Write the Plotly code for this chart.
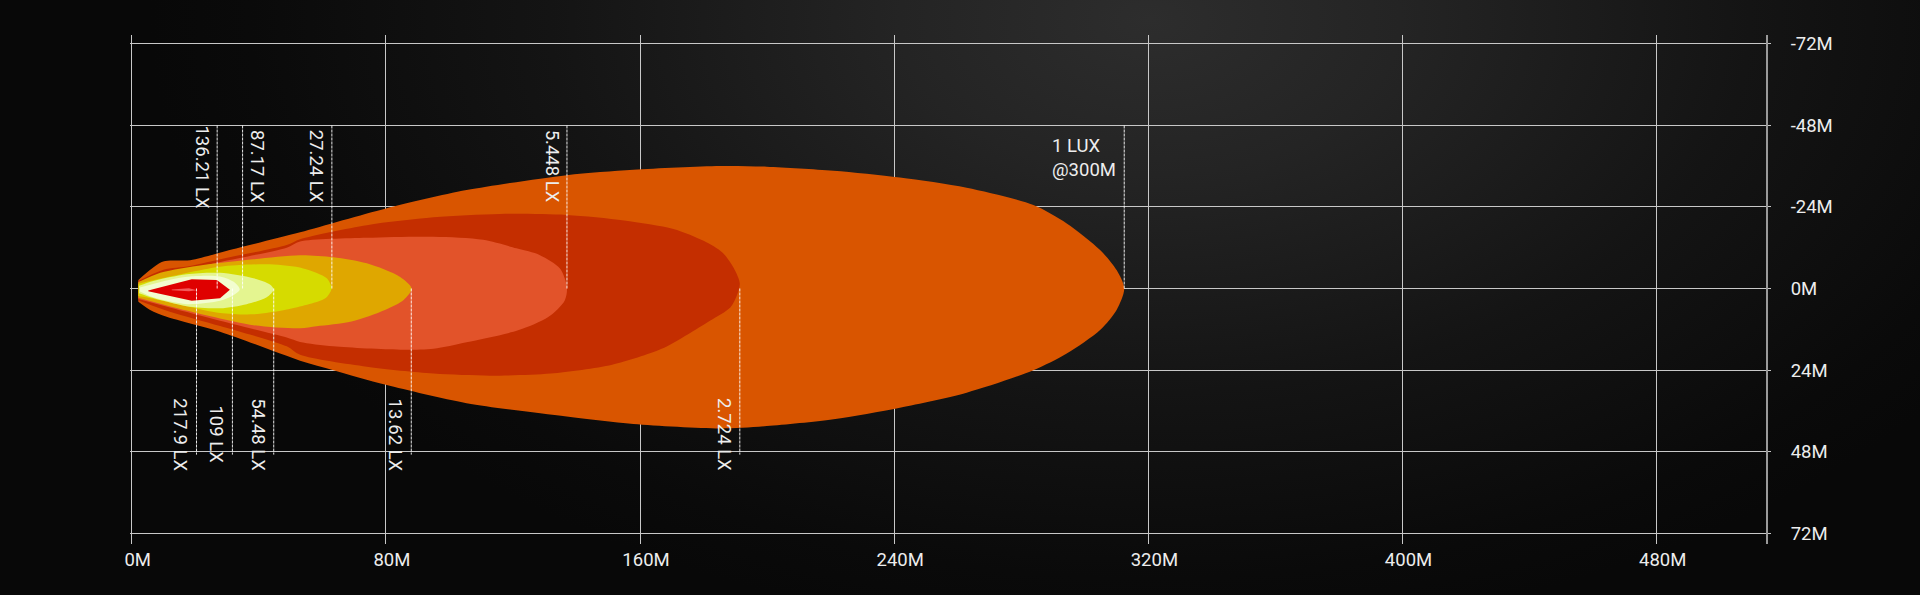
import base64
import plotly.graph_objects as go

# ---------------- axis ticks ----------------
x_ticks = [0, 80, 160, 240, 320, 400, 480]
x_tick_text = ["0M", "80M", "160M", "240M", "320M", "400M", "480M"]
y_ticks = [-72, -48, -24, 0, 24, 48, 72]
y_tick_text = ["-72M", "-48M", "-24M", "0M", "24M", "48M", "72M"]

# ---------------- isolux contours (distance M, lateral M) ----------------
lux_1_x = [2.1, 9.9, 18.4, 30, 53, 80, 105.4, 136.9, 157.9, 185.2, 199.9, 220.9, 241.8, 262.8, 283.8, 294.3, 304.8, 310.0, 312.4,
           310.0, 304.8, 294.3, 283.8, 262.8, 241.8, 220.9, 199.9, 185.2, 157.9, 136.9, 105.4, 80, 63.5, 53, 27.8, 11.0, 5.8, 2.1]
lux_1_y = [-2.5, -7.9, -8.3, -11.1, -16.5, -23.5, -28.9, -33.3, -34.9, -36.0, -35.8, -34.6, -32.6, -29.6, -24.5, -19.1, -11.3, -5.4, 0.0,
           6.3, 12.2, 19.1, 24.0, 30.6, 35.0, 38.4, 40.4, 41.1, 39.8, 37.6, 33.7, 28.3, 24.0, 21.2, 12.7, 8.3, 6.3, 3.9]

lux_2724_x = [2.1, 10, 18.4, 30, 48.8, 53, 74, 95, 115.9, 136.9, 155, 170.5, 180, 186, 189.5, 191.4,
              190.5, 188.5, 182, 175, 166.6, 151.2, 131.9, 112.8, 95, 74, 53, 48.8, 27.8, 12, 2.1]
lux_2724_y = [-2.2, -5.5, -6.6, -9.0, -12.8, -14.5, -18.6, -20.9, -21.9, -21.6, -20.0, -17.5, -14.0, -10.5, -6.0, -1.5,
              2.0, 5.5, 9.5, 13.5, 17.8, 22.4, 25.0, 25.6, 25.0, 23.0, 19.5, 17.0, 11.0, 6.8, 3.5]

lux_5448_x = [2.1, 15, 30, 48.8, 53, 74, 95, 110.6, 121.1, 128.5, 134.8, 137.0,
              136.3, 131.1, 121.6, 105.4, 95, 84.5, 63.5, 53, 48.8, 27.8, 12, 2.1]
lux_5448_y = [-2.0, -5.0, -8.2, -12.0, -13.8, -14.9, -15.2, -14.3, -11.8, -9.8, -5.9, -0.4,
              3.5, 8.4, 12.3, 15.8, 17.7, 18.0, 17.0, 15.7, 14.4, 9.5, 5.6, 3.1]

lux_1362_x = [2.1, 9, 22.5, 38.3, 53, 63.5, 74, 84.5, 88.1, 85.6, 79.7, 69.2, 58.2, 53, 38.3, 17.3, 2.1]
lux_1362_y = [-1.8, -4.6, -6.9, -8.6, -9.8, -9.2, -7.4, -3.4, 0.0, 3.35, 6.3, 9.7, 11.1, 11.7, 10.8, 6.5, 2.7]

lux_2724b_x = [2.1, 12.05, 27.8, 43.5, 54.0, 61.4, 62.9, 61.5, 59.3, 48.8, 38.3, 27.8, 17.3, 6.8, 2.1]
lux_2724b_y = [-1.4, -3.5, -6.4, -7.1, -5.9, -3.0, 0.0, 2.4, 3.6, 6.2, 7.6, 7.2, 5.2, 3.0, 2.2]

lux_5448b_x = [2.3, 6.8, 17.3, 27.8, 38.3, 43.5, 44.7, 42.5, 36.2, 27.8, 17.3, 6.8, 2.3]
lux_5448b_y = [-0.8, -2.2, -4.2, -4.6, -3.0, -1.2, 0.3, 2.6, 4.6, 5.8, 5.2, 2.8, 1.4]

lux_8717_x = [2.6, 12.05, 18.35, 27.8, 32.5, 34.0, 32.0, 27.8, 17.3, 6.8, 2.6]
lux_8717_y = [-0.3, -2.6, -3.5, -3.5, -1.7, 0.3, 2.0, 3.6, 4.6, 2.6, 0.9]

lux_13621_x = [5.2, 18.9, 26.8, 30.9, 27.8, 18.9, 5.2]
lux_13621_y = [0.6, -2.7, -2.5, 0.4, 2.9, 3.6, 0.8]

lux_2179_x = [12.6, 18.0, 20.6, 18.0, 12.6]
lux_2179_y = [0.3, -0.1, 0.5, 0.8, 0.5]

contours = [
    (lux_1_x, lux_1_y, "#D95500", "spline"),
    (lux_2724_x, lux_2724_y, "#C42E00", "spline"),
    (lux_5448_x, lux_5448_y, "#E2532A", "spline"),
    (lux_1362_x, lux_1362_y, "#DFA700", "spline"),
    (lux_2724b_x, lux_2724b_y, "#D6DB00", "spline"),
    (lux_5448b_x, lux_5448b_y, "#E4F590", "spline"),
    (lux_8717_x, lux_8717_y, "#F2FDD0", "spline"),
    (lux_13621_x, lux_13621_y, "#DF0000", "linear"),
    (lux_2179_x, lux_2179_y, "#F25A5A", "linear"),
]

# ---------------- marker labels ----------------
top_labels = ["136.21 LX", "87.17 LX", "27.24 LX", "5.448 LX"]
top_dist = [26.9, 34.9, 63.0, 137.0]
top_side = [-1, 1, -1, -1]
bottom_labels = ["217.9 LX", "109 LX", "54.48 LX", "13.62 LX", "2.724 LX"]
bottom_dist = [20.4, 31.7, 44.7, 88.0, 191.4]
max_label = "1 LUX<br>@300M"
max_dist = 312.4

TEXT = "#EDEDED"
FONT = "Roboto, Liberation Sans, sans-serif"
FS = 18.5

fig = go.Figure()
for cx, cy, col, shp in contours:
    fig.add_trace(go.Scatter(x=cx, y=cy, mode="lines", fill="toself", fillcolor=col,
                             line=dict(width=0, shape=shp, smoothing=0.8, color=col),
                             hoverinfo="skip", showlegend=False))

dot_line = dict(color="rgba(255,255,255,0.9)", width=1, dash="3px,1px")
for d in top_dist + [max_dist]:
    fig.add_trace(go.Scatter(x=[d, d], y=[0, -48], mode="lines", line=dot_line,
                             hoverinfo="skip", showlegend=False))
for d in bottom_dist:
    fig.add_trace(go.Scatter(x=[d, d], y=[0, 48.8], mode="lines", line=dot_line,
                             hoverinfo="skip", showlegend=False))

for lab, d, s in zip(top_labels, top_dist, top_side):
    fig.add_annotation(x=d, y=-35.8, text=lab, showarrow=False, textangle=90,
                       xanchor="center", yanchor="middle", xshift=15 * s,
                       font=dict(family=FONT, size=FS, color=TEXT))
for lab, d in zip(bottom_labels, bottom_dist):
    fig.add_annotation(x=d, y=43.0, text=lab, showarrow=False, textangle=90,
                       xanchor="center", yanchor="middle", xshift=-16,
                       font=dict(family=FONT, size=FS, color=TEXT))
fig.add_annotation(x=max_dist, y=-38.3, text=max_label, showarrow=False, align="left",
                   xanchor="right", yanchor="middle", xshift=-6,
                   font=dict(family=FONT, size=FS, color=TEXT))

# background radial gradient
svg = ('<svg xmlns="http://www.w3.org/2000/svg" width="1920" height="595">'
       '<defs><radialGradient id="g" gradientUnits="userSpaceOnUse" cx="1150" cy="20" r="1000" '
       'gradientTransform="translate(1150 20) scale(1 0.62) translate(-1150 -20)">'
       '<stop offset="0" stop-color="#2d2d2d"/><stop offset="0.25" stop-color="#242424"/>'
       '<stop offset="0.6" stop-color="#141414"/><stop offset="0.9" stop-color="#0a0a0a"/>'
       '<stop offset="1" stop-color="#080808"/></radialGradient></defs>'
       '<rect width="1920" height="595" fill="url(#g)"/></svg>')
src = "data:image/svg+xml;base64," + base64.b64encode(svg.encode()).decode()

L, R, T, B = 130, 154, 35, 51
W, H = 1920, 595
pw, ph = W - L - R, H - T - B

fig.add_layout_image(dict(source=src, xref="paper", yref="paper",
                          x=-L / pw, y=1 + T / ph, sizex=W / pw, sizey=H / ph,
                          xanchor="left", yanchor="top", sizing="stretch", layer="below"))

grid = "#C8C8C8"
fig.update_layout(
    width=W, height=H,
    margin=dict(l=L, r=R, t=T, b=B),
    paper_bgcolor="#0a0a0a", plot_bgcolor="rgba(0,0,0,0)",
    showlegend=False,
    xaxis=dict(range=[-0.535, 514.4], tickvals=x_ticks, ticktext=x_tick_text,
               showgrid=True, gridcolor=grid, gridwidth=1.2, zeroline=False, showline=False,
               ticks="", ticklabelshift=6, ticklabelstandoff=2,
               tickfont=dict(family=FONT, size=FS, color=TEXT), fixedrange=True),
    yaxis=dict(range=[75.06, -74.47], side="right", tickvals=y_ticks, ticktext=y_tick_text,
               showgrid=True, gridcolor=grid, gridwidth=1.2, zeroline=False,
               showline=True, linecolor="#9A9A9A", linewidth=2,
               ticks="outside", ticklen=3, tickcolor=grid, tickwidth=1.2,
               ticklabelstandoff=16,
               tickfont=dict(family=FONT, size=FS, color=TEXT), fixedrange=True),
)

fig.write_html("out.html", config={"displayModeBar": False},
               post_script="document.body.style.margin='0';document.body.style.background='#0a0a0a';")
